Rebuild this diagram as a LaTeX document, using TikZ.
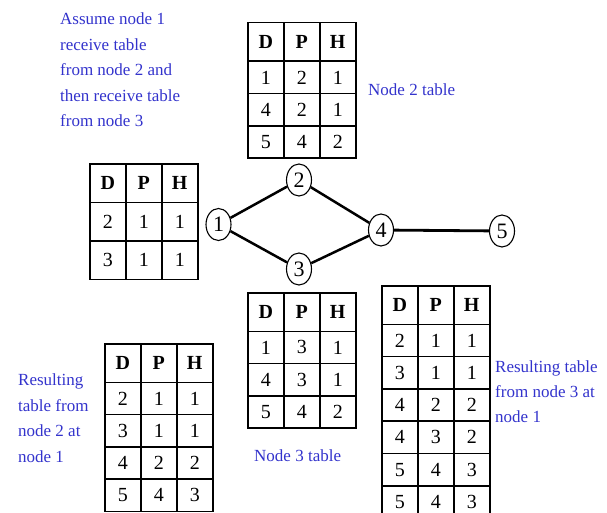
\documentclass[tikz,border=0pt]{standalone}
\usepackage{fontspec}
\setmainfont{Liberation Serif}
\usetikzlibrary{matrix,shapes.geometric}
\definecolor{lblblue}{RGB}{51,51,204}
\tikzset{
  tbl/.style={matrix of nodes, anchor=north west, inner sep=0pt, outer sep=0pt,
    column sep=-1.5pt, row sep=-1.5pt,
    nodes={draw, line width=1.5pt, inner sep=0pt, outer sep=0pt, minimum width=36pt,
      minimum height=#1, font=\fontsize{20}{20}\selectfont, anchor=center},
    row 1/.style={nodes={minimum height=38.5pt, font=\fontsize{20}{20}\selectfont\bfseries}}},
  tbl/.default=32.3pt,
  netnode/.style={ellipse, draw, line width=1.1pt, minimum width=25pt, minimum height=32pt,
    inner sep=0pt, font=\fontsize{22}{22}\selectfont},
  link/.style={line width=2.5pt},
  lbl/.style={text=lblblue, font=\fontsize{17}{25.5}\selectfont, align=left,
    inner sep=0pt, anchor=north west}
}
\begin{document}
\begin{tikzpicture}[x=1pt,y=1pt]
\clip (0,0) rectangle (607,-513);
\useasboundingbox (0,0) rectangle (607,-513);

% network
\node[netnode] (n1) at (218.5,-224.5) {1};
\node[netnode] (n2) at (299,-180) {2};
\node[netnode] (n3) at (299,-269) {3};
\node[netnode] (n4) at (381,-230) {4};
\node[netnode] (n5) at (502,-231) {5};
\draw[link] (n1) -- (n2);
\draw[link] (n1) -- (n3);
\draw[link] (n2) -- (n4);
\draw[link] (n3) -- (n4);
\draw[link, line width=2.8pt] (n4) -- (n5);

% tables
\matrix[tbl] (t2) at (247,-22) {
D & P & H \\
1 & 2 & 1 \\
4 & 2 & 1 \\
5 & 4 & 2 \\
};
\matrix[tbl=38.5pt] (t1) at (89,-163) {
D & P & H \\
2 & 1 & 1 \\
3 & 1 & 1 \\
};
\matrix[tbl] (t3) at (247,-292) {
D & P & H \\
1 & 3 & 1 \\
4 & 3 & 1 \\
5 & 4 & 2 \\
};
\matrix[tbl] (r2) at (104,-343) {
D & P & H \\
2 & 1 & 1 \\
3 & 1 & 1 \\
4 & 2 & 2 \\
5 & 4 & 3 \\
};
\matrix[tbl] (r3) at (381,-285) {
D & P & H \\
2 & 1 & 1 \\
3 & 1 & 1 \\
4 & 2 & 2 \\
4 & 3 & 2 \\
5 & 4 & 3 \\
5 & 4 & 3 \\
};

% labels
\node[lbl] (la) at (60,-13) {Assume node 1\\receive table\\from node 2 and\\then receive table\\from node 3};
\node[lbl] (l2) at (368,-84) {Node 2 table};
\node[lbl] (l3) at (254,-450) {Node 3 table};
\node[lbl] (lr2) at (18,-374) {Resulting\\table from\\node 2 at\\node 1};
\node[lbl] (lr3) at (495,-360) {Resulting table\\from node 3 at\\node 1};
\end{tikzpicture}
\end{document}
